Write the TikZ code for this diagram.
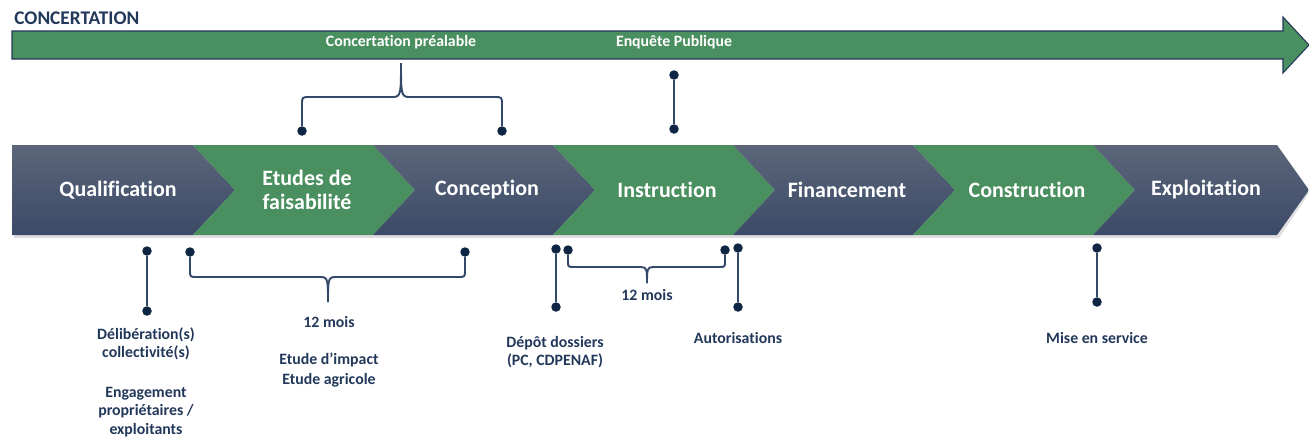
\documentclass[tikz,border=0pt]{standalone}
\usepackage{fontspec}
\setmainfont{Carlito}[Ligatures=NoCommon]
\usepackage{tikz}

\definecolor{navy}{HTML}{22385A}
\definecolor{dotblue}{HTML}{0E2643}
\definecolor{linkblue}{HTML}{34496A}
\definecolor{leaf}{HTML}{4A8F60}
\definecolor{slatetop}{HTML}{5C667A}
\definecolor{slatebot}{HTML}{3B4A67}

\tikzset{
  phase/.style={font=\bfseries\fontsize{12.5}{13.5}\selectfont, text=white, align=center},
  dark/.style={top color=slatetop, bottom color=slatebot, draw=none},
  green/.style={fill=leaf, draw=none},
  note/.style={font=\bfseries\fontsize{9}{10.5}\selectfont, text=navy, align=center},
  dot/.style={circle, fill=dotblue, inner sep=0pt, minimum size=0.19cm},
  link/.style={draw=linkblue, line width=1.1pt},
}

\begin{document}
\begin{tikzpicture}[x=0.02cm, y=0.02cm]
\useasboundingbox (0,0) rectangle (1309,-441);

% concertation arrow
\node[anchor=west, font=\bfseries\fontsize{11}{13}\selectfont, text=navy, inner sep=0pt] (concert) at (14,-18) {CONCERTATION};
\draw[fill=leaf, draw=navy, line width=0.6pt] (12,-31) -- (1283,-31) -- (1283,-17) -- (1309,-45) -- (1283,-73) -- (1283,-59) -- (12,-59) -- cycle;
\node[note, text=white] (prealable) at (401,-42) {Concertation préalable};
\node[note, text=white] (enquete) at (674,-42) {Enquête Publique};

% phases
\fill[gray!25] (14,-148) -- (1279,-148) -- (1309,-193) -- (1279,-238) -- (14,-238) -- cycle;
\path[dark] (12,-145) -- (193,-145) -- (235,-190) -- (193,-235) -- (12,-235) -- cycle;
\path[green] (193,-145) -- (373,-145) -- (415,-190) -- (373,-235) -- (193,-235) -- (235,-190) -- cycle;
\path[dark] (373,-145) -- (553,-145) -- (595,-190) -- (553,-235) -- (373,-235) -- (415,-190) -- cycle;
\path[green] (553,-145) -- (733,-145) -- (775,-190) -- (733,-235) -- (553,-235) -- (595,-190) -- cycle;
\path[dark] (733,-145) -- (913,-145) -- (955,-190) -- (913,-235) -- (733,-235) -- (775,-190) -- cycle;
\path[green] (913,-145) -- (1093,-145) -- (1135,-190) -- (1093,-235) -- (913,-235) -- (955,-190) -- cycle;
\path[dark] (1093,-145) -- (1277,-145) -- (1309,-190) -- (1277,-235) -- (1093,-235) -- (1135,-190) -- cycle;

\node[phase] (qualif) at (118,-190) {Qualification};
\node[phase] (etudes) at (307,-190) {Etudes de\\faisabilité};
\node[phase] (conception) at (487,-190) {Conception};
\node[phase] (instruction) at (667,-190) {Instruction};
\node[phase] (financement) at (847,-190) {Financement};
\node[phase] (construction) at (1027,-190) {Construction};
\node[phase] (exploitation) at (1206,-190) {Exploitation};

% markers above
\node[dot] (pre_l) at (302,-131) {};
\node[dot] (pre_r) at (502,-131) {};
\node[dot] (enq_1) at (674,-75) {};
\node[dot] (enq_2) at (674,-129) {};
\draw[link] (pre_l) -- (302,-105) .. controls (302,-97) .. (310,-97) -- (393,-97) .. controls (401,-97) and (401,-93) .. (401,-63);
\draw[link] (pre_r) -- (502,-105) .. controls (502,-97) .. (494,-97) -- (409,-97) .. controls (401,-97) and (401,-93) .. (401,-63);
\draw[link] (enq_1) -- (enq_2);

% markers below
\node[dot] (delib_1) at (147,-251) {};
\node[dot] (delib_2) at (147,-311) {};
\node[dot] (etu_l) at (190,-252) {};
\node[dot] (etu_r) at (465,-252) {};
\node[dot] (depot_1) at (556,-249) {};
\node[dot] (depot_2) at (556,-307) {};
\node[dot] (ins_l) at (568,-250) {};
\node[dot] (ins_r) at (725,-250) {};
\node[dot] (autor_1) at (738,-248) {};
\node[dot] (autor_2) at (738,-307) {};
\node[dot] (mes_1) at (1097,-248) {};
\node[dot] (mes_2) at (1097,-302) {};

\draw[link] (delib_1) -- (delib_2);
\draw[link] (depot_1) -- (depot_2);
\draw[link] (autor_1) -- (autor_2);
\draw[link] (mes_1) -- (mes_2);
\draw[link] (etu_l) -- (190,-270) .. controls (190,-277) .. (197,-277) -- (321,-277) .. controls (328,-277) and (328,-281) .. (328,-302);
\draw[link] (etu_r) -- (465,-270) .. controls (465,-277) .. (458,-277) -- (335,-277) .. controls (328,-277) and (328,-281) .. (328,-302);
\draw[link] (ins_l) -- (568,-261) .. controls (568,-267) .. (574,-267) -- (641,-267) .. controls (647,-267) and (647,-270) .. (647,-283);
\draw[link] (ins_r) -- (725,-261) .. controls (725,-267) .. (719,-267) -- (653,-267) .. controls (647,-267) and (647,-270) .. (647,-283);

% texts below
\node[note] (delib) at (146,-344) {Délibération(s)\\collectivité(s)};
\node[note] (engag) at (146,-412) {Engagement\\propriétaires /\\exploitants};
\node[note] (etu_mois) at (329,-322) {12 mois};
\node[note, font=\bfseries\fontsize{9}{11.3}\selectfont] (etu_txt) at (329,-370) {Etude d’impact\\Etude agricole};
\node[note] (depot) at (555,-352) {Dépôt dossiers\\(PC, CDPENAF)};
\node[note] (ins_mois) at (647,-295) {12 mois};
\node[note] (autor) at (738,-338) {Autorisations};
\node[note] (mes) at (1097,-338) {Mise en service};
\end{tikzpicture}
\end{document}
